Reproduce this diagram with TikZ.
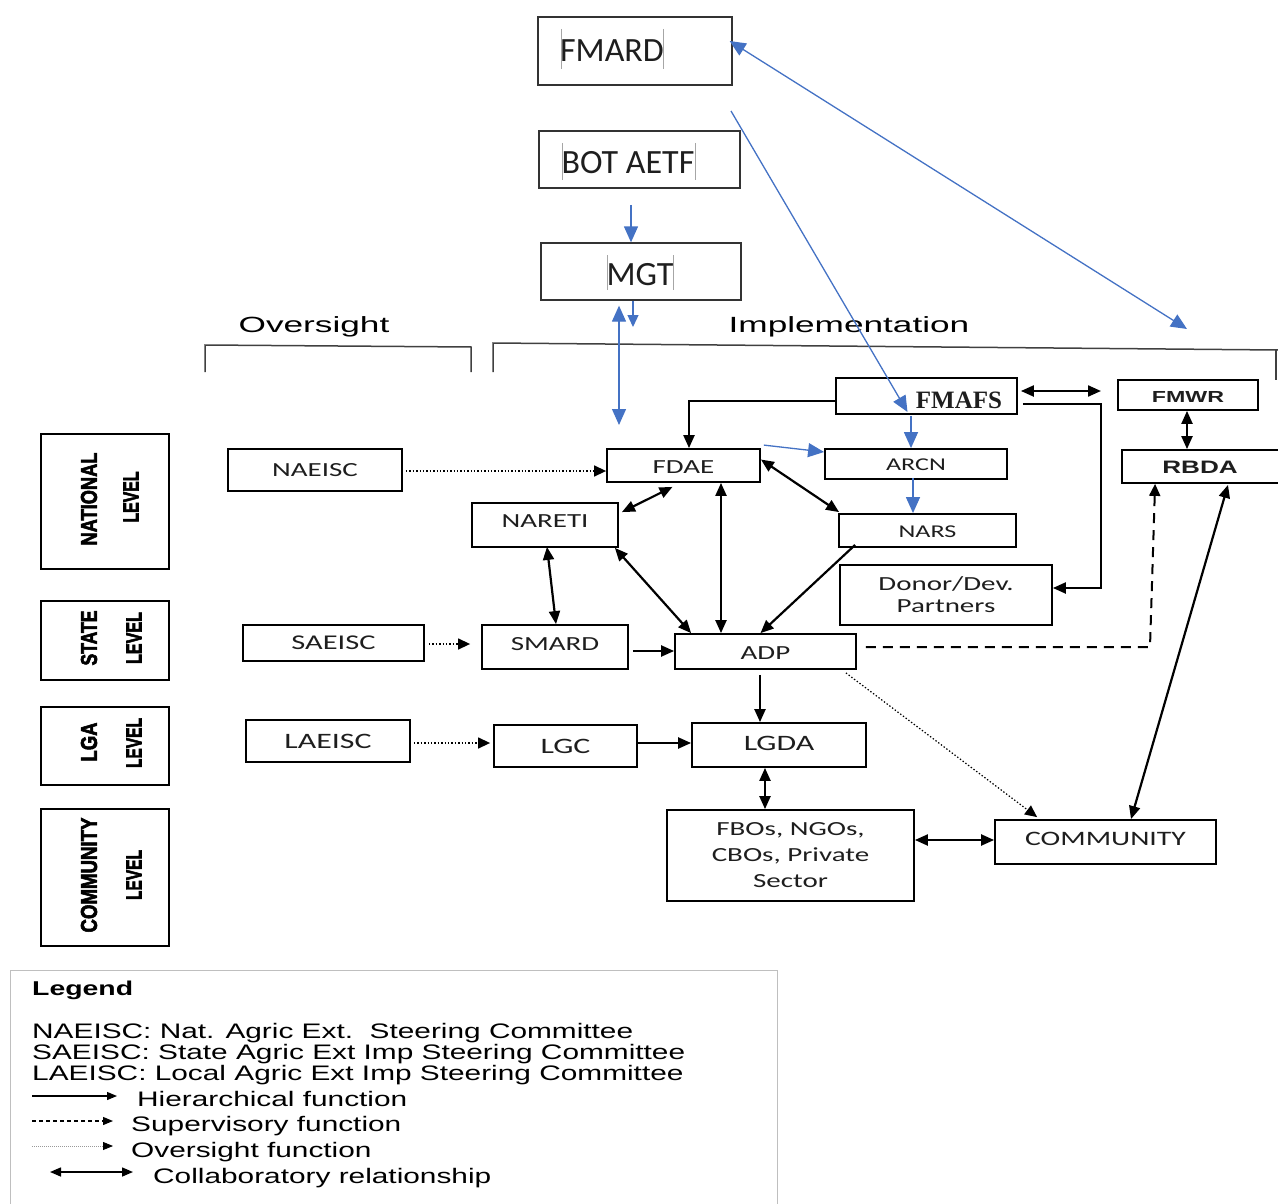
\documentclass[tikz,border=0pt]{standalone}
\usepackage{fontspec}
\usepackage{graphicx}
\usetikzlibrary{arrows.meta,calc}
\setmainfont{Liberation Sans}
\newfontfamily\nodef[FakeStretch=1.45]{Carlito}
\newfontfamily\calib{Carlito}
\newfontfamily\legf[FakeStretch=1.42]{Liberation Sans}
\newfontfamily\headf[FakeStretch=1.6]{Liberation Sans}
\newfontfamily\serifb{Liberation Serif}
\newfontfamily\boldf[FakeStretch=1.45]{Liberation Sans}
\newfontfamily\lvlf[UprightFont={* Bold},UprightFeatures={FakeBold=3}]{Liberation Sans}
\definecolor{bl}{RGB}{68,114,196}
\definecolor{txt}{RGB}{30,30,30}
\newcommand\fs[1]{\fontsize{#1}{26}\selectfont}
\newcommand\sq[3]{\resizebox{#1pt}{#2pt}{\lvlf #3}}
\tikzset{
  box/.style={draw, line width=1.8pt, inner sep=0pt, align=center, text=txt, font=\nodef\fs{20}},
  topbox/.style={draw, line width=1.3pt, draw=black!80, inner sep=0pt},
  toptext/.style={inner sep=0pt, text=txt, font=\calib\fs{34}},
  cursorbar/.style={draw=black!35, line width=0.6pt},
  lvl/.style={inner sep=0pt, rotate=90},
  lvlbox/.style={draw, line width=1.8pt},
  harr/.style={line width=2.2pt, -{Triangle[length=13pt,width=11pt]}},
  carr/.style={line width=2.2pt, {Triangle[length=13pt,width=11pt]}-{Triangle[length=13pt,width=11pt]}},
  dotarr/.style={line width=1.4pt, dash pattern=on 1.4pt off 2pt, -{Triangle[length=12pt,width=11pt]}},
  dasharr/.style={line width=2pt, dash pattern=on 10pt off 7pt, -{Triangle[length=12pt,width=11pt]}},
  barr/.style={draw=bl, line width=1.3pt, -{Triangle[length=16pt,width=14pt]}},
  bdbl/.style={draw=bl, line width=1.3pt, {Triangle[length=16pt,width=14pt]}-{Triangle[length=16pt,width=14pt]}},
  legtext/.style={anchor=base west, inner sep=0pt, font=\legf\fs{21}},
  head/.style={inner sep=0pt, font=\headf\fs{22}},
  bracket/.style={line width=1.5pt, draw=black!75}
}
\begin{document}
\begin{tikzpicture}[x=1pt,y=-1pt]
\useasboundingbox (0,0) rectangle (1278,1204);

% top boxes
\node[topbox, minimum width=194pt, minimum height=68pt] (fmard) at (635,51) {};
\node[toptext] (fmardt) at (612,51) {FMARD};
\draw[cursorbar] (561,29) -- (561,69) (663,29) -- (663,69);
\node[topbox, minimum width=201pt, minimum height=57pt] (bot) at (639.5,159.5) {};
\node[toptext] (bott) at (628,163) {BOT AETF};
\draw[cursorbar] (562,143) -- (562,180) (695,143) -- (695,180);
\node[topbox, minimum width=200pt, minimum height=57pt] (mgt) at (641,271.5) {};
\node[toptext] (mgtt) at (640,275) {MGT};
\draw[cursorbar] (607,255) -- (607,290) (673,255) -- (673,290);

% headings and brackets
\node[head] (over) at (314,327) {Oversight};
\node[head] (impl) at (849,327) {Implementation};
\draw[bracket] (205,372) -- (205,345) -- (471,347) -- (471,372);
\draw[bracket] (493,372) -- (493,343) -- (1278,350);
\draw[bracket] (1276,350) -- (1276,380);

% level boxes
\node[lvlbox, minimum width=128pt, minimum height=135pt] (natl) at (105,501.5) {};
\node[lvl] (natla) at (89,499) {\sq{93}{16}{NATIONAL}};
\node[lvl] (natlb) at (131,497) {\sq{51}{15}{LEVEL}};
\node[lvlbox, minimum width=128pt, minimum height=79pt] (state) at (105,640.5) {};
\node[lvl] (statea) at (89,638) {\sq{55}{16}{STATE}};
\node[lvl] (stateb) at (134,638) {\sq{52}{15}{LEVEL}};
\node[lvlbox, minimum width=128pt, minimum height=78pt] (lga) at (105,746) {};
\node[lvl] (lgaa) at (89,742) {\sq{39}{16}{LGA}};
\node[lvl] (lgab) at (134,743) {\sq{50}{15}{LEVEL}};
\node[lvlbox, minimum width=128pt, minimum height=137pt] (comm) at (105,877.5) {};
\node[lvl] (comma) at (89,875) {\sq{115}{16}{COMMUNITY}};
\node[lvl] (commb) at (134,875) {\sq{50}{15}{LEVEL}};

% main boxes
\node[box, minimum width=174pt, minimum height=42pt] (naeisc) at (315,470) {NAEISC};
\node[box, minimum width=153pt, minimum height=33pt, text height=15pt] (fdae) at (683.5,465.5) {FDAE};
\node[box, minimum width=181pt, minimum height=36pt] (fmafs) at (926.5,396) {};
\node[inner sep=0pt, font=\serifb\bfseries\fs{25}, text=txt] (fmafst) at (959,400) {FMAFS};
\node[box, minimum width=140pt, minimum height=30pt, font=\boldf\bfseries\fs{16}, text height=14pt] (fmwr) at (1188,395) {FMWR};
\node[box, minimum width=160pt, minimum height=33pt, font=\boldf\bfseries\fs{18}, text width=160pt, text height=14.5pt] (rbda) at (1202,466.5) {\hspace*{-4pt}RBDA};
\node[box, minimum width=182pt, minimum height=30pt, font=\nodef\fs{18}, text height=14pt] (arcn) at (916,464) {ARCN};
\node[box, minimum width=146pt, minimum height=44pt, text depth=8pt] (nareti) at (545,525) {NARETI};
\node[box, minimum width=177pt, minimum height=33pt, font=\nodef\fs{18}, text height=14pt] (nars) at (927.5,530.5) {NARS};
\node[box, minimum width=212pt, minimum height=60pt, font=\nodef\fontsize{20}{22}\selectfont] (donor) at (946,595) {Donor/Dev.\\Partners};
\node[box, minimum width=181pt, minimum height=36pt, font=\nodef\fs{21}] (saeisc) at (333.5,643) {SAEISC};
\node[box, minimum width=146pt, minimum height=44pt, text depth=6pt] (smard) at (555,647) {SMARD};
\node[box, minimum width=181pt, minimum height=35pt, text height=15pt] (adp) at (765.5,651.5) {ADP};
\node[box, minimum width=164pt, minimum height=42pt, font=\nodef\fs{22}] (laeisc) at (328,741) {LAEISC};
\node[box, minimum width=143pt, minimum height=42pt, font=\nodef\fs{22}] (lgc) at (565.5,746) {LGC};
\node[box, minimum width=174pt, minimum height=44pt, font=\nodef\fs{22}, text depth=4pt] (lgda) at (779,745) {LGDA};
\node[box, minimum width=247pt, minimum height=91pt] (fbos) at (790.5,855.5) {FBOs, NGOs,\\CBOs, Private\\Sector};
\node[box, minimum width=221pt, minimum height=44pt, font=\nodef\fs{20.5}, text depth=6pt] (community) at (1105.5,842) {COMMUNITY};

% blue connectors
\coordinate (b1) at (631,205);
\draw[barr] (b1) -- (b1 |- mgt.north);
\coordinate (m2) at (633,327);
\draw[draw=bl, line width=1.3pt, -{Triangle[length=12pt,width=11pt]}] (mgt.south -| m2) -- (m2);
\coordinate (m3) at (619,425);
\draw[bdbl] ($(mgt.south -| m3)+(0,5)$) -- (m3);
\coordinate (fr) at (1187,329);
\draw[bdbl] ($(fmard.east)+(-3,-10)$) -- (fr);
\coordinate (fm1) at (731,111);
\draw[barr] (fm1) -- ($(fmafs.center)+(-19,16)$);
\draw[barr] ($(fmafs.south)+(-15.5,1)$) -- ($(arcn.north)+(-5,0)$);
\draw[barr] ($(arcn.south)+(-3,-2)$) -- ($(nars.north)+(-14.5,0)$);
\draw[barr] ($(fdae.north east)+(3,-3)$) -- ($(arcn.west)+(0,-12)$);

% black connectors
\draw[harr] ($(fmafs.west)+(0,5)$) -| ($(fdae.north)+(5.5,0)$);
\coordinate (fw) at (1101,391);
\draw[carr] ($(fmafs.east)+(3,-5)$) -- (fw);
\coordinate (dp) at (1101,588);
\draw[harr] ($(fmafs.east)+(5,8)$) -| (dp) -- ($(donor.east)+(0,-7)$);
\draw[carr] (fmwr.south -| 1187,0) -- (rbda.north -| 1187,0);
\draw[carr] ($(fdae.south)+(-11,4)$) -- ($(nareti.north east)+(3,10)$);
\draw[carr] ($(fdae.east)+(0,-6)$) -- ($(nars.north west)+(1,-1)$);
\draw[carr] ($(fdae.south)+(37.5,0)$) -- ($(adp.north)+(-44.5,0)$);
\draw[carr] ($(nareti.south)+(2,-1)$) -- ($(smard.north)+(1,0)$);
\draw[carr] ($(nareti.south east)+(-4,0)$) -- ($(adp.north west)+(17,0)$);
\draw[harr] ($(nars.south west)+(17,-3)$) -- ($(adp.north)+(-5,0)$);
\draw[dotarr] ($(naeisc.east)+(3,1)$) -- ($(fdae.west)+(0,5.5)$);
\draw[dotarr] ($(saeisc.east)+(4,1)$) -- ($(smard.west)+(-11,-3)$);
\draw[harr] ($(smard.east)+(4,4)$) -- ($(adp.west)+(0,-0.5)$);
\draw[harr] ($(adp.south)+(-5.5,5)$) -- ($(lgda.north)+(-19,0)$);
\coordinate (dc) at (1150,647);
\draw[dasharr] ($(adp.east)+(9,-4.5)$) -- (dc) -- ($(rbda.south west)+(34,0)$);
\draw[dotarr, line width=1.2pt] ($(adp.south east)+(-11,3)$) -- ($(community.north west)+(43,-2)$);
\draw[dotarr] ($(laeisc.east)+(3,2)$) -- ($(lgc.west)+(-3,-3)$);
\draw[harr] ($(lgc.east)+(0,-3)$) -- ($(lgda.west)+(0,-2)$);
\draw[carr] ($(lgda.south)+(-14,0)$) -- ($(fbos.north)+(-25.5,0)$);
\draw[carr] ($(fbos.east)+(0,-15.5)$) -- ($(community.west)+(0,-2)$);
\draw[carr] ($(rbda.south)+(26,1)$) -- ($(community.north)+(25.5,0)$);

% legend
\node[draw=black!25, line width=1pt, minimum width=767pt, minimum height=240pt, inner sep=0pt] (legend) at (393.5,1090) {};
\node[legtext, font=\legf\bfseries\fs{20}] (lg0) at (32,995) {Legend};
\node[legtext] (lg1) at (32,1038) {NAEISC: Nat. Agric Ext.\ \ Steering Committee};
\node[legtext] (lg2) at (32,1059) {SAEISC: State Agric Ext Imp Steering Committee};
\node[legtext] (lg3) at (32,1080) {LAEISC: Local Agric Ext Imp Steering Committee};
\node[legtext] (lg4) at (137,1106) {Hierarchical function};
\node[legtext] (lg5) at (131,1131) {Supervisory function};
\node[legtext] (lg6) at (131,1157) {Oversight function};
\node[legtext] (lg7) at (153,1183) {Collaboratory relationship};
\coordinate (la1) at (32,1096); \coordinate (la2) at (117,1096);
\draw[line width=1.2pt, -{Triangle[length=10pt,width=8pt]}] (la1) -- (la2);
\coordinate (lb1) at (32,1121); \coordinate (lb2) at (113,1121);
\draw[line width=1.2pt, dash pattern=on 4pt off 3pt, -{Triangle[length=10pt,width=8pt]}] (lb1) -- (lb2);
\coordinate (lc1) at (32,1146); \coordinate (lc2) at (113,1146);
\draw[draw=black!40, line width=0.8pt, dash pattern=on 1pt off 1pt, -{Triangle[length=10pt,width=8pt,color=black,fill=black]}] (lc1) -- (lc2);
\coordinate (ld1) at (50,1172); \coordinate (ld2) at (133,1172);
\draw[line width=1.5pt, {Triangle[length=11pt,width=9pt]}-{Triangle[length=11pt,width=9pt]}] (ld1) -- (ld2);
\end{tikzpicture}
\end{document}
